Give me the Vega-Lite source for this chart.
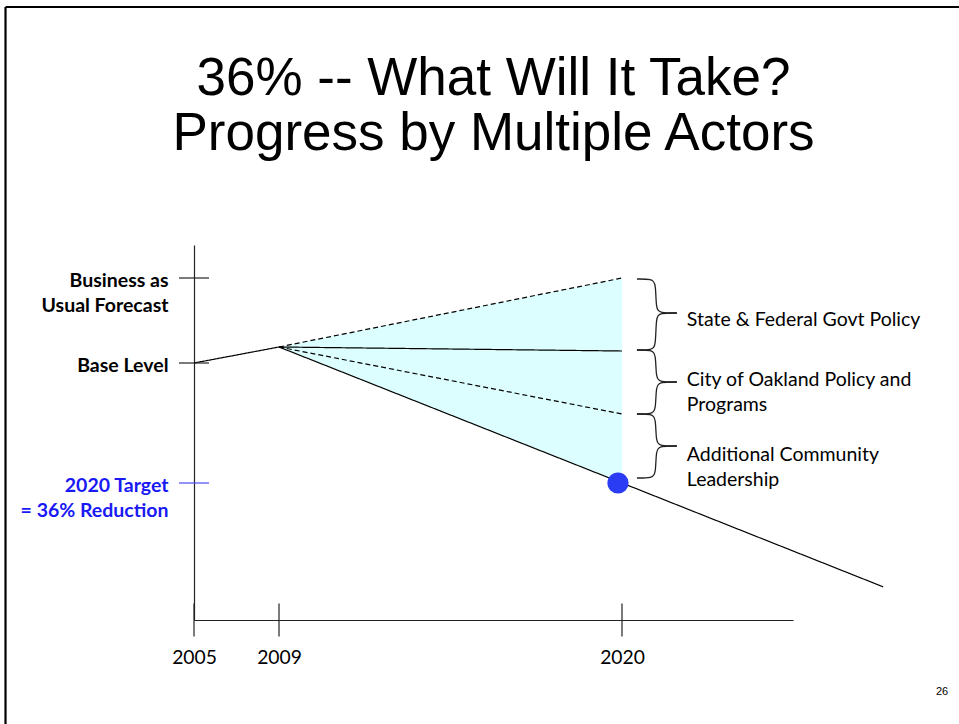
{
  "$schema": "https://vega.github.io/schema/vega-lite/v6.json",
  "width": 599,
  "height": 375,
  "autosize": {"type": "none"},
  "padding": {"left": 194, "top": 245, "right": 166, "bottom": 104},
  "background": "white",
  "config": {"view": {"stroke": null}, "font": "Lato"},
  "title": {
    "text": ["36% -- What Will It Take?", "Progress by Multiple Actors"],
    "font": "Liberation Sans",
    "fontSize": 53,
    "fontWeight": "normal",
    "color": "black",
    "lineHeight": 55,
    "anchor": "middle",
    "frame": "group",
    "offset": -155
  },
  "layer": [
    {
      "data": {"values": [
        {"year": 2009, "value": 104.8, "lower": 104.8},
        {"year": 2020, "value": 125.5, "lower": 64}
      ]},
      "mark": {"type": "area", "color": "#dcfefe", "opacity": 1},
      "encoding": {
        "x": {
          "field": "year",
          "type": "quantitative",
          "scale": {"domain": [2005, 2009, 2020, 2025.5], "range": [0, 85, 428, 599], "nice": false, "zero": false},
          "axis": {
            "values": [2005, 2009, 2020],
            "format": "d",
            "title": null,
            "grid": false,
            "ticks": false,
            "tickSize": 0,
            "labelPadding": 28,
            "labelBaseline": "top",
            "labelFont": "Lato",
            "labelFontSize": 19.3,
            "labelColor": "black",
            "labelFlush": false,
            "labelOverlap": false,
            "domainColor": "#222222",
            "domainWidth": 1.2
          }
        },
        "y": {
          "field": "value",
          "type": "quantitative",
          "scale": {"domain": [22.9, 135.4], "nice": false, "zero": false},
          "axis": {
            "values": [125.5, 100, 64],
            "title": null,
            "grid": false,
            "ticks": false,
            "tickSize": 0,
            "labelPadding": 26,
            "labelAlign": "right",
            "labelBaseline": "middle",
            "labelOffset": 2,
            "labelFont": "Lato",
            "labelFontWeight": "bold",
            "labelFontSize": 19.5,
            "labelLineHeight": 25,
            "labelFlush": false,
            "labelOverlap": false,
            "labelLimit": 300,
            "labelExpr": "datum.value > 120 ? ['Business as', 'Usual Forecast'] : datum.value > 90 ? 'Base Level' : ['2020 Target', '= 36% Reduction']",
            "labelColor": {"condition": {"test": "datum.value < 70", "value": "#1919f5"}, "value": "black"},
            "domainColor": "#222222",
            "domainWidth": 1.2
          }
        },
        "y2": {"field": "lower"}
      }
    },
    {
      "data": {"values": [
        {"series": "Baseline trend", "style": "solid", "year": 2005, "value": 100},
        {"series": "Baseline trend", "style": "solid", "year": 2009, "value": 104.8},
        {"series": "With State & Federal policy", "style": "solid", "year": 2009, "value": 104.8},
        {"series": "With State & Federal policy", "style": "solid", "year": 2020, "value": 103.6},
        {"series": "Business as usual", "style": "dashed", "year": 2009, "value": 104.8},
        {"series": "Business as usual", "style": "dashed", "year": 2020, "value": 125.5},
        {"series": "With City policy", "style": "dashed", "year": 2009, "value": 104.8},
        {"series": "With City policy", "style": "dashed", "year": 2020, "value": 84.7},
        {"series": "Target path", "style": "solid", "year": 2009, "value": 104.8},
        {"series": "Target path", "style": "solid", "year": 2020, "value": 64},
        {"series": "Target path", "style": "solid", "year": 2028.4, "value": 32.85}
      ]},
      "mark": {"type": "line", "color": "black", "strokeWidth": 1.2},
      "encoding": {
        "x": {"field": "year", "type": "quantitative"},
        "y": {"field": "value", "type": "quantitative"},
        "detail": {"field": "series", "type": "nominal"},
        "strokeDash": {"field": "style", "type": "nominal", "scale": {"domain": ["solid", "dashed"], "range": [[1, 0], [5, 3]]}, "legend": null}
      }
    },
    {
      "data": {"values": [{"year": 2005}, {"year": 2009}, {"year": 2020}]},
      "mark": {"type": "tick", "orient": "vertical", "size": 33, "thickness": 1.2, "color": "#222222", "opacity": 1},
      "encoding": {
        "x": {"field": "year", "type": "quantitative"},
        "y": {"datum": 22.9, "type": "quantitative"}
      }
    },
    {
      "data": {"values": [
        {"level": "Business as Usual Forecast", "value": 125.5},
        {"level": "Base Level", "value": 100},
        {"level": "2020 Target", "value": 64}
      ]},
      "mark": {"type": "tick", "orient": "horizontal", "size": 30, "thickness": 1.2, "opacity": 1},
      "encoding": {
        "x": {"datum": 2005, "type": "quantitative"},
        "y": {"field": "value", "type": "quantitative"},
        "color": {"condition": {"test": "datum.value < 70", "value": "#4b4bef"}, "value": "#222222"}
      }
    },
    {
      "data": {"values": [{"year": 2020, "value": 64}]},
      "mark": {"type": "circle", "size": 450, "color": "#2a3cf4", "opacity": 1, "xOffset": -4},
      "encoding": {
        "x": {"field": "year", "type": "quantitative"},
        "y": {"field": "value", "type": "quantitative"}
      }
    },
    {
      "data": {"values": [
        {"part": "b1top", "i": 0, "year": 2020.481, "value": 125.2},
        {"part": "b1top", "i": 1, "year": 2020.962, "value": 125.2},
        {"part": "b1top", "i": 2, "year": 2021.09, "value": 124.0},
        {"part": "b1top", "i": 3, "year": 2021.09, "value": 116.2},
        {"part": "b1top", "i": 4, "year": 2021.219, "value": 115.0},
        {"part": "b1top", "i": 5, "year": 2021.764, "value": 115.0},
        {"part": "b1bot", "i": 0, "year": 2021.764, "value": 115.0},
        {"part": "b1bot", "i": 1, "year": 2021.219, "value": 115.0},
        {"part": "b1bot", "i": 2, "year": 2021.09, "value": 113.8},
        {"part": "b1bot", "i": 3, "year": 2021.09, "value": 105.1},
        {"part": "b1bot", "i": 4, "year": 2020.962, "value": 103.9},
        {"part": "b1bot", "i": 5, "year": 2020.481, "value": 103.9},
        {"part": "b2top", "i": 0, "year": 2020.481, "value": 103.9},
        {"part": "b2top", "i": 1, "year": 2020.962, "value": 103.9},
        {"part": "b2top", "i": 2, "year": 2021.09, "value": 102.7},
        {"part": "b2top", "i": 3, "year": 2021.09, "value": 95.5},
        {"part": "b2top", "i": 4, "year": 2021.219, "value": 94.3},
        {"part": "b2top", "i": 5, "year": 2021.764, "value": 94.3},
        {"part": "b2bot", "i": 0, "year": 2021.764, "value": 94.3},
        {"part": "b2bot", "i": 1, "year": 2021.219, "value": 94.3},
        {"part": "b2bot", "i": 2, "year": 2021.09, "value": 93.1},
        {"part": "b2bot", "i": 3, "year": 2021.09, "value": 85.9},
        {"part": "b2bot", "i": 4, "year": 2020.962, "value": 84.7},
        {"part": "b2bot", "i": 5, "year": 2020.481, "value": 84.7},
        {"part": "b3top", "i": 0, "year": 2020.481, "value": 84.7},
        {"part": "b3top", "i": 1, "year": 2020.962, "value": 84.7},
        {"part": "b3top", "i": 2, "year": 2021.09, "value": 83.5},
        {"part": "b3top", "i": 3, "year": 2021.09, "value": 76.3},
        {"part": "b3top", "i": 4, "year": 2021.219, "value": 75.1},
        {"part": "b3top", "i": 5, "year": 2021.764, "value": 75.1},
        {"part": "b3bot", "i": 0, "year": 2021.764, "value": 75.1},
        {"part": "b3bot", "i": 1, "year": 2021.219, "value": 75.1},
        {"part": "b3bot", "i": 2, "year": 2021.09, "value": 73.9},
        {"part": "b3bot", "i": 3, "year": 2021.09, "value": 66.7},
        {"part": "b3bot", "i": 4, "year": 2020.962, "value": 65.5},
        {"part": "b3bot", "i": 5, "year": 2020.481, "value": 65.5}
      ]},
      "mark": {"type": "line", "interpolate": "basis", "color": "#222222", "strokeWidth": 1.3},
      "encoding": {
        "x": {"field": "year", "type": "quantitative"},
        "y": {"field": "value", "type": "quantitative"},
        "detail": {"field": "part", "type": "nominal"},
        "order": {"field": "i", "type": "quantitative"}
      }
    },
    {
      "data": {"values": [
        {"year": 2022.085, "value": 112.9, "label": "State & Federal Govt Policy"},
        {"year": 2022.085, "value": 94.9, "label": "City of Oakland Policy and\nPrograms"},
        {"year": 2022.085, "value": 72.4, "label": "Additional Community\nLeadership"}
      ]},
      "mark": {"type": "text", "align": "left", "baseline": "middle", "lineBreak": "\n", "font": "Lato", "fontSize": 19.5, "lineHeight": 25, "color": "black"},
      "encoding": {
        "x": {"field": "year", "type": "quantitative"},
        "y": {"field": "value", "type": "quantitative"},
        "text": {"field": "label", "type": "nominal"}
      }
    },
    {
      "data": {"values": [{"edge": "left"}]},
      "mark": {"type": "rule", "color": "black", "strokeWidth": 2.2},
      "encoding": {
        "x": {"datum": 1996.13, "type": "quantitative"},
        "y": {"datum": 206.8, "type": "quantitative"},
        "y2": {"datum": -10}
      }
    },
    {
      "data": {"values": [{"edge": "top"}]},
      "mark": {"type": "rule", "color": "black", "strokeWidth": 2.2},
      "encoding": {
        "x": {"datum": 1996.13, "type": "quantitative"},
        "x2": {"datum": 2031},
        "y": {"datum": 206.8, "type": "quantitative"}
      }
    },
    {
      "data": {"values": [{"page": "26"}]},
      "mark": {"type": "text", "align": "right", "baseline": "alphabetic", "font": "Liberation Sans", "fontSize": 11, "color": "black"},
      "encoding": {
        "x": {"datum": 2030.49, "type": "quantitative"},
        "y": {"datum": 0.4, "type": "quantitative"},
        "text": {"field": "page", "type": "nominal"}
      }
    }
  ]
}
